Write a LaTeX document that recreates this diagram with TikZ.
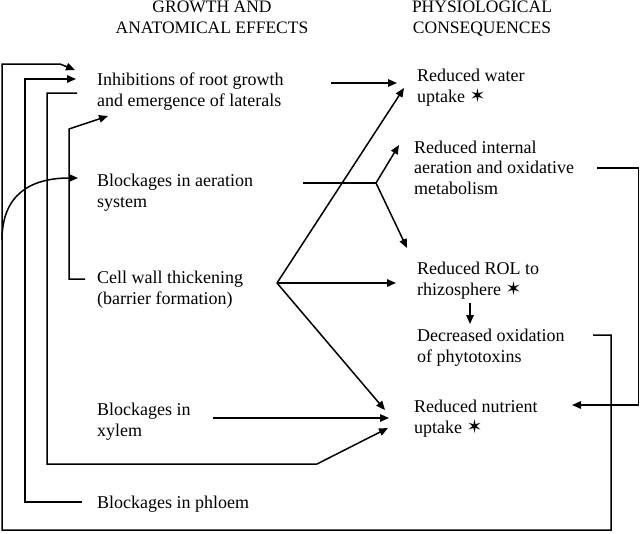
\documentclass[tikz,border=0pt]{standalone}
\usepackage{fontspec}
\setmainfont{Liberation Serif}
\newfontfamily\symfont{DejaVu Sans}
\usetikzlibrary{arrows.meta}
\newcommand{\stx}{{\symfont\fontsize{19}{19}\selectfont ✶}}
\begin{document}
\begin{tikzpicture}[x=1pt,y=-1pt,
  lbl/.style={anchor=base west, inner sep=0pt, align=left, font=\fontsize{18}{20.5}\selectfont},
  hdr/.style={anchor=base, inner sep=0pt, align=center, font=\fontsize{17.5}{20.5}\selectfont},
  conn/.style={line width=1.5pt, line join=miter},
  arr/.style={conn, -{Triangle[length=9pt,width=7.5pt]}}]
\useasboundingbox (0,0) rectangle (640,533);
% headers (positions give the baseline of the last line)
\node[hdr] (h1) at (212,33) {GROWTH AND\\ANATOMICAL EFFECTS};
\node[hdr] (h2) at (482,33) {PHYSIOLOGICAL\\CONSEQUENCES};
% left column
\node[lbl] (inh) at (97,106) {Inhibitions of root growth\\and emergence of laterals};
\node[lbl] (aer) at (97,207) {Blockages in aeration\\system};
\node[lbl] (cw) at (97,304) {Cell wall thickening\\(barrier formation)};
\node[lbl] (xyl) at (97,436) {Blockages in\\xylem};
\node[lbl] (phl) at (97,508) {Blockages in phloem};
% right column
\node[lbl] (wat) at (417,102) {Reduced water\\uptake \stx};
\node[lbl] (int) at (414,194) {Reduced internal\\aeration and oxidative\\metabolism};
\node[lbl] (rol) at (417,295) {Reduced ROL to\\rhizosphere \stx};
\node[lbl] (dec) at (417,362) {Decreased oxidation\\of phytotoxins};
\node[lbl] (nut) at (414,433) {Reduced nutrient\\uptake \stx};
% connector points
\coordinate (inhIn1) at (75,70);
\coordinate (inhIn2) at (76,79);
\coordinate (inhOut) at (77,93);
\coordinate (inhIn3) at (108,116);
\coordinate (inhR) at (331,83);
\coordinate (watIn1) at (397,83);
\coordinate (watIn2) at (404,88);
\coordinate (aerIn) at (78,178);
\coordinate (aerR) at (303,183);
\coordinate (aerJ) at (376,183);
\coordinate (intIn) at (399,145);
\coordinate (intR) at (597,168);
\coordinate (cwL) at (85,279);
\coordinate (cwJ) at (277,283);
\coordinate (rolIn1) at (407,248);
\coordinate (rolIn2) at (396,283);
\coordinate (rolD) at (470,303);
\coordinate (decIn) at (470,324);
\coordinate (decR) at (593,335);
\coordinate (xylR) at (213,418);
\coordinate (nutIn1) at (385,410);
\coordinate (nutIn2) at (389,418);
\coordinate (nutIn3) at (388,428);
\coordinate (nutR) at (572,405);
\coordinate (phlL) at (82,502);
\coordinate (loopBr) at (2,240);
% outer feedback loop: decreased oxidation -> inhibitions
\draw[arr] (decR) -| (611,530) -| (2,64) -- (60,64) -- (inhIn1);
\draw[arr] (loopBr) .. controls (2,195) and (30,178) .. (aerIn);
% phloem -> inhibitions
\draw[arr] (phlL) -| (25,79) -- (inhIn2);
% inhibitions -> nutrient
\draw[arr] (inhOut) -| (47,464) -- (317,464) -- (nutIn3);
% cell wall -> inhibitions
\draw[arr] (cwL) -| (69,129) -- (inhIn3);
% inhibitions -> water
\draw[arr] (inhR) -- (watIn1);
% cell wall fan
\draw[arr] (cwJ) -- (watIn2);
\draw[arr] (cwJ) -- (rolIn2);
\draw[arr] (cwJ) -- (nutIn1);
% aeration
\draw[conn] (aerR) -- (aerJ);
\draw[arr] (aerJ) -- (intIn);
\draw[arr] (aerJ) -- (rolIn1);
% ROL -> decreased
\draw[arr] (rolD) -- (decIn);
% internal -> nutrient
\draw[arr] (intR) -| (638.5,405) -- (nutR);
% xylem -> nutrient
\draw[arr] (xylR) -- (nutIn2);
\end{tikzpicture}
\end{document}
